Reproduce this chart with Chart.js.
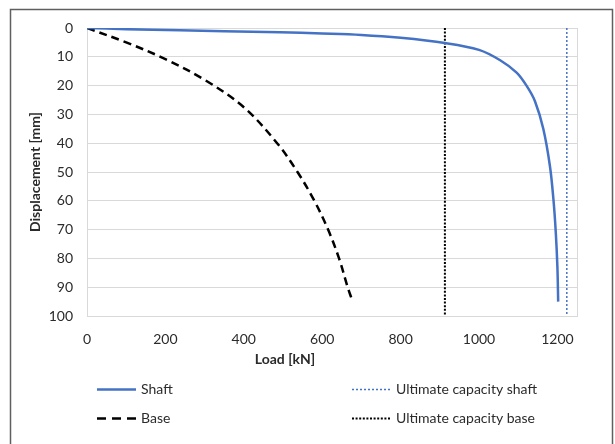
<!DOCTYPE html>
<html><head><meta charset="utf-8">
<script src="https://cdn.jsdelivr.net/npm/chart.js@4/dist/chart.umd.min.js"></script>
<style>html,body{margin:0;padding:0;background:#fff}#wrap{width:615px;height:444px;position:relative}</style>
</head><body><div id="wrap"><canvas id="c" width="615" height="444"></canvas></div>
<script>
const seriesNames = ['Shaft', 'Base', 'Ultimate capacity shaft', 'Ultimate capacity base'];
const shaftLoad = [0, 100, 237, 350, 492, 600, 700, 800, 913, 1000, 1054, 1096, 1122, 1143, 1164, 1181, 1190, 1196, 1200, 1202];
const shaftDisp = [0, 0.4, 0.8, 1.1, 1.5, 1.9, 2.4, 3.4, 5.2, 7.6, 11.2, 15.5, 20.2, 25.5, 35, 48, 59.7, 71.3, 83, 95];
const baseLoad = [0, 100, 200, 300, 400, 485, 537, 580, 615, 643, 665, 675];
const baseDisp = [0, 5, 10.8, 18, 27.5, 40, 50, 60, 70, 80, 90, 94];
const ultimateShaftLoad = [1224, 1224];
const ultimateBaseLoad = [913, 913];
const ultimateDisp = [0, 100];
const xTicks = [0, 200, 400, 600, 800, 1000, 1200];
const yTicks = [0, 10, 20, 30, 40, 50, 60, 70, 80, 90, 100];
const xTitle = 'Load [kN]';
const yTitle = 'Displacement [mm]';

const pts = (xs, ys) => xs.map((x, i) => ({ x: x, y: ys[i] }));
const FONT = 'Lato';
const TXT = '#2b2b2b';
const GRID = '#d9d9d9';

const framePlugin = {
  id: 'frame',
  beforeDraw(chart) {
    const ctx = chart.ctx;
    ctx.save();
    ctx.fillStyle = '#fff';
    ctx.fillRect(0, 0, chart.width, chart.height);
    ctx.strokeStyle = '#5f5f5f';
    ctx.lineWidth = 1.5;
    ctx.strokeRect(10.5, 9.5, 602, 450);
    ctx.restore();
  },
  afterDraw(chart) {
    const ctx = chart.ctx;
    const a = chart.chartArea;
    ctx.save();
    ctx.strokeStyle = GRID;
    ctx.lineWidth = 1;
    ctx.beginPath();
    ctx.moveTo(Math.round(a.right) + 0.5, a.top);
    ctx.lineTo(Math.round(a.right) + 0.5, a.bottom);
    ctx.stroke();
    // x axis title
    ctx.fillStyle = TXT;
    ctx.font = 'bold 14px ' + FONT;
    ctx.textAlign = 'center';
    ctx.textBaseline = 'middle';
    ctx.fillText(xTitle, 285, 359);
    // legend
    const cols = [97, 352];
    const rows = [389, 418];
    ctx.font = '14px ' + FONT;
    ctx.textAlign = 'left';
    chart.data.datasets.forEach((ds, i) => {
      const x = cols[Math.floor(i / 2)];
      const y = rows[i % 2];
      ctx.strokeStyle = ds.borderColor;
      ctx.lineWidth = ds.borderWidth;
      ctx.setLineDash(ds.legendDash || []);
      ctx.beginPath();
      ctx.moveTo(x, y + 0.5);
      ctx.lineTo(x + 39, y + 0.5);
      ctx.stroke();
      ctx.setLineDash([]);
      ctx.fillStyle = TXT;
      ctx.fillText(ds.label, x + 44, y);
    });
    ctx.restore();
  }
};

new Chart(document.getElementById('c'), {
  type: 'line',
  data: {
    datasets: [
      { label: seriesNames[0], data: pts(shaftLoad, shaftDisp), borderColor: '#4472C4', borderWidth: 2.5, tension: 0.35, pointRadius: 0 },
      { label: seriesNames[1], data: pts(baseLoad, baseDisp), borderColor: '#000000', borderWidth: 2.5, borderDash: [8, 5], legendDash: [9, 6], tension: 0.35, pointRadius: 0 },
      { label: seriesNames[2], data: pts(ultimateShaftLoad, ultimateDisp), borderColor: '#4472C4', borderWidth: 1.5, borderDash: [2, 2], legendDash: [2, 2], pointRadius: 0 },
      { label: seriesNames[3], data: pts(ultimateBaseLoad, ultimateDisp), borderColor: '#000000', borderWidth: 2, borderDash: [2, 1.6], legendDash: [2, 1.6], pointRadius: 0 }
    ]
  },
  options: {
    responsive: false,
    animation: false,
    devicePixelRatio: 1,
    layout: { padding: { left: 10, right: 38, top: 28, bottom: 0 } },
    plugins: { legend: { display: false }, tooltip: { enabled: false } },
    scales: {
      x: {
        type: 'linear', min: 0, max: 1250,
        afterBuildTicks: s => { s.ticks = xTicks.map(v => ({ value: v })); },
        afterFit: s => { s.height = 128; },
        grid: { display: false },
        border: { display: true, color: GRID, width: 1 },
        ticks: { color: TXT, font: { family: FONT, size: 14 }, padding: 7, maxRotation: 0, autoSkip: false, callback: v => String(v) },
        title: { display: false }
      },
      y: {
        type: 'linear', min: 0, max: 100, reverse: true,
        afterBuildTicks: s => { s.ticks = yTicks.map(v => ({ value: v })); },
        afterFit: s => { s.width = 77; },
        grid: { color: GRID, drawTicks: false, lineWidth: 1 },
        border: { display: true, color: GRID, width: 1 },
        ticks: { color: TXT, font: { family: FONT, size: 14 }, padding: 14, autoSkip: false, callback: v => String(v) },
        title: { display: true, text: yTitle, color: TXT, font: { family: FONT, size: 14, weight: 'bold' }, padding: { top: 17, bottom: 0 } }
      }
    }
  },
  plugins: [framePlugin]
});
</script></body></html>
